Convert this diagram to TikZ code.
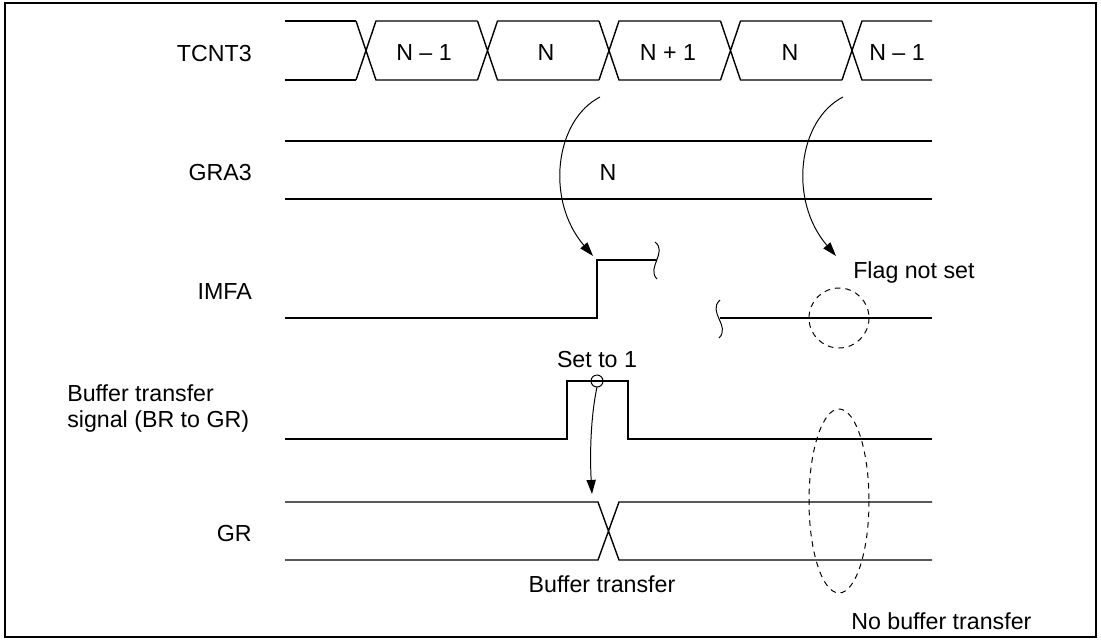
\documentclass[tikz,border=0pt]{standalone}
\usepackage{fontspec}
\setmainfont{Liberation Sans}
\usetikzlibrary{arrows.meta}

\begin{document}
\begin{tikzpicture}[x=0.025cm,y=-0.025cm,>={Triangle[length=10pt,width=6.5pt]},
  sig/.style={line width=1pt},
  thin arrow/.style={->,line width=0.7pt},
  ring/.style={line width=0.7pt,dash pattern=on 4pt off 3.5pt},
  lbl/.style={font=\fontsize{16.5}{18.4}\selectfont,inner sep=0pt}]
\useasboundingbox (0,0) rectangle (1101,641);
\draw[line width=1.2pt] (5,3) rectangle (1096,637);
% signal names
\node[lbl,anchor=base east] (tcnt) at (252,61) {TCNT3};
\node[lbl,anchor=base east] (gra) at (252,180) {GRA3};
\node[lbl,anchor=base east] (imfa) at (252,299) {IMFA};
\node[lbl,anchor=base west,align=left] (brgr) at (67,427) {Buffer transfer\\signal (BR to GR)};
\node[lbl,anchor=base east] (gr) at (252,541) {GR};
% TCNT3 bus
\draw[sig] (285,21) -- (356,21) (285,80) -- (356,80);
\foreach \c/\e in {366/477.5,487.5/599,609/720.5,730.5/842,852/932}
  \draw[sig] (\c-10,21) -- (\c+10,80) -- (\e,80) (\c-10,80) -- (\c+10,21) -- (\e,21);
\foreach \x/\v [count=\i] in {424/N -- 1,546/N,668/N + 1,790/N,897/N -- 1}
  \node[lbl,anchor=base] (cnt\i) at (\x,60) {\v};
% GRA3
\draw[sig] (285,141) -- (932,141) (285,199) -- (932,199);
\node[lbl,anchor=base] (grav) at (608,180) {N};
% IMFA
\draw[sig] (285,318) -| (597,260) -- (657,260);
\draw[line width=0.7pt] (655,242) .. controls (668,252) and (646,268) .. (657,279);
\draw[line width=0.7pt] (720,300) .. controls (707,312) and (731,326) .. (719,338);
\draw[sig] (720,318) -- (932,318);
\node[lbl,anchor=base west] (noflag) at (853,278) {Flag not set};
\draw[ring] (839,318) circle (30);
% buffer transfer signal
\draw[sig] (285,439) -| (567,381) -| (628,439) -- (932,439);
\node[lbl,anchor=base] (set1) at (597,367) {Set to 1};
\draw[line width=0.7pt] (597,381) circle (6);
% GR
\draw[sig] (285,502) -- (598,502) -- (619,560) -- (932,560) (285,560) -- (598,560) -- (619,502) -- (932,502);
\node[lbl,anchor=base] (bt) at (602,592) {Buffer transfer};
\node[lbl,anchor=base west] (nobt) at (851,629) {No buffer transfer};
\draw[ring] (839,501) ellipse (30 and 92);
% arrows
\coordinate (cmpA) at (600,97);
\coordinate (cmpB) at (843,97);
\coordinate (flagA) at (593,256);
\coordinate (flagB) at (836,256);
\coordinate (pulse) at (597,387);
\coordinate (grx) at (592,494);
\draw[thin arrow] (cmpA) .. controls (555,120) and (545,200) .. (flagA);
\draw[thin arrow] (cmpB) .. controls (798,120) and (788,200) .. (flagB);
\draw[thin arrow] (pulse) .. controls (590,420) and (590,460) .. (grx);
\end{tikzpicture}
\end{document}
